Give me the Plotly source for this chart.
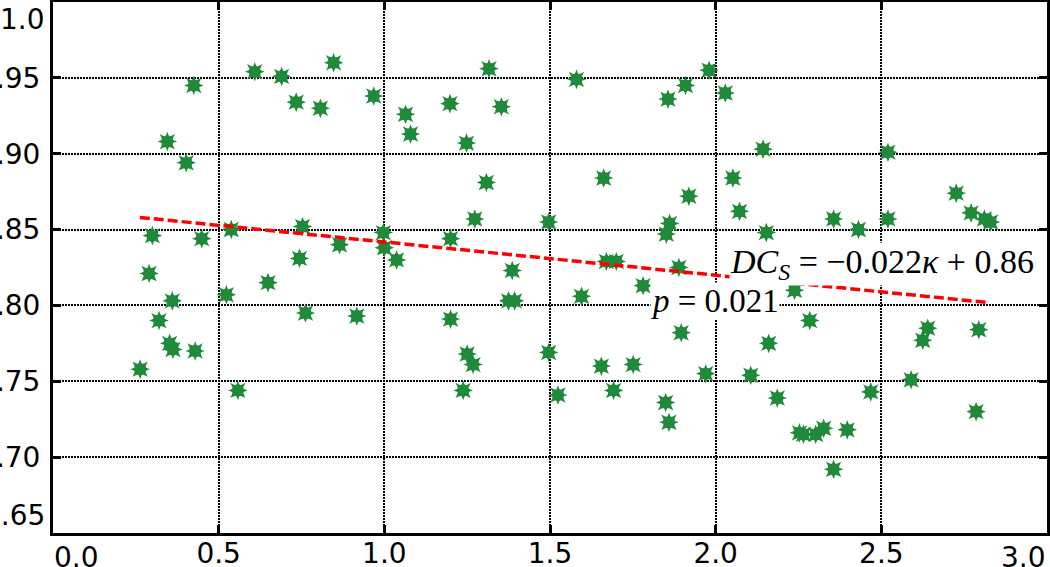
import plotly.graph_objects as go

# curvature (kappa) vs DC_S
kappa = [0.263, 0.290, 0.300, 0.320, 0.345, 0.352, 0.360, 0.362, 0.402, 0.425,
         0.429, 0.449, 0.523, 0.538, 0.558, 0.609, 0.649, 0.690, 0.734, 0.744,
         0.753, 0.762, 0.807, 0.847, 0.865, 0.917, 0.968, 0.997, 1.000, 1.037,
         1.064, 1.079, 1.198, 1.200, 1.200, 1.238, 1.248, 1.250, 1.268, 1.273,
         1.308, 1.316, 1.353, 1.375, 1.386, 1.393, 1.496, 1.496, 1.524, 1.580,
         1.595, 1.655, 1.662, 1.670, 1.692, 1.700, 1.751, 1.781, 1.849, 1.851,
         1.856, 1.859, 1.861, 1.889, 1.896, 1.909, 1.919, 1.970, 1.980, 2.029,
         2.052, 2.072, 2.106, 2.143, 2.153, 2.160, 2.186, 2.238, 2.253, 2.265,
         2.284, 2.302, 2.326, 2.356, 2.356, 2.397, 2.431, 2.468, 2.520, 2.520,
         2.590, 2.625, 2.640, 2.726, 2.771, 2.786, 2.794, 2.811, 2.830]
dcs = [0.758, 0.821, 0.846, 0.790, 0.908, 0.775, 0.803, 0.771, 0.894, 0.945,
       0.770, 0.844, 0.807, 0.850, 0.744, 0.954, 0.815, 0.951, 0.934, 0.831,
       0.852, 0.795, 0.930, 0.960, 0.840, 0.793, 0.938, 0.848, 0.838, 0.830,
       0.926, 0.913, 0.933, 0.844, 0.791, 0.744, 0.907, 0.768, 0.761, 0.857,
       0.881, 0.956, 0.931, 0.803, 0.823, 0.803, 0.855, 0.769, 0.741, 0.949,
       0.806, 0.760, 0.884, 0.829, 0.744, 0.829, 0.761, 0.813, 0.736, 0.847,
       0.936, 0.723, 0.854, 0.825, 0.782, 0.945, 0.872, 0.755, 0.955, 0.940,
       0.884, 0.862, 0.754, 0.903, 0.848, 0.775, 0.739, 0.810, 0.716, 0.715,
       0.790, 0.715, 0.719, 0.857, 0.692, 0.718, 0.850, 0.743, 0.901, 0.857,
       0.751, 0.777, 0.785, 0.874, 0.861, 0.730, 0.784, 0.857, 0.855]

# fitted line endpoints
fit_x = [0.262, 2.817]
fit_y = [0.858, 0.802]

x_ticks = [0.0, 0.5, 1.0, 1.5, 2.0, 2.5, 3.0]
x_ticktext = ['0.0', '0.5', '1.0', '1.5', '2.0', '2.5', '3.0']
y_ticks = [0.65, 0.70, 0.75, 0.80, 0.85, 0.90, 0.95, 1.0]
y_ticktext = ['0.65', '0.70', '0.75', '0.80', '0.85', '0.90', '0.95', '1.0']

eq_text = '<i>DC<sub>S</sub></i> = \u22120.022<i>\u03ba</i> + 0.86'
p_text = '<i>p</i> = 0.021'

GREEN = '#1f8a3a'
TICK_FONT = dict(family='DejaVu Sans', size=28, color='black')

fig = go.Figure()

# eight-point star = star-square on top of star-diamond
for sym in ['star-diamond', 'star-square']:
    fig.add_trace(go.Scatter(
        x=kappa, y=dcs, mode='markers',
        marker=dict(symbol=sym, size=14, color=GREEN, line=dict(width=0)),
        showlegend=False, hoverinfo='skip',
    ))

fig.add_trace(go.Scatter(
    x=fit_x, y=fit_y, mode='lines',
    line=dict(color='red', width=3.5, dash='10px,4px'),
    showlegend=False, hoverinfo='skip',
))

axis_common = dict(
    showline=True, linecolor='black', linewidth=3, mirror='ticks',
    ticks='inside', ticklen=8, tickwidth=3, tickcolor='black',
    showgrid=True, gridcolor='black', gridwidth=1.5, griddash='1.5px,1.5px',
    zeroline=False, tickfont=TICK_FONT, automargin=False,
)

# end labels are drawn as annotations (they sit inside the axes span)
fig.update_xaxes(
    range=[x_ticks[0], x_ticks[-1]], tickvals=x_ticks[1:-1],
    ticktext=x_ticktext[1:-1], ticklabelstandoff=-7,
    **axis_common,
)
fig.update_yaxes(
    range=[y_ticks[0], y_ticks[-1]], tickvals=y_ticks[1:-1],
    ticktext=y_ticktext[1:-1], ticklabelstandoff=4,
    **axis_common,
)

annotations = [
    dict(x=x_ticks[0], y=0, yref='paper', xanchor='left', yanchor='top',
         text=x_ticktext[0], yshift=-7),
    dict(x=x_ticks[-1], y=0, yref='paper', xanchor='right', yanchor='top',
         text=x_ticktext[-1], yshift=-7),
    dict(x=0, xref='paper', y=y_ticks[0], xanchor='right', yanchor='bottom',
         text=y_ticktext[0], xshift=-7),
    dict(x=0, xref='paper', y=y_ticks[-1], xanchor='right', yanchor='top',
         text=y_ticktext[-1], xshift=-7),
]
for a in annotations:
    a.update(showarrow=False, font=TICK_FONT, borderpad=0)
    fig.add_annotation(**a)

fig.add_annotation(
    x=2.965, y=0.827, xanchor='right', yanchor='middle', text=eq_text,
    showarrow=False, bgcolor='white', borderpad=0,
    font=dict(family='Liberation Serif', size=34, color='black'),
)
fig.add_annotation(
    x=1.997, y=0.803, xanchor='center', yanchor='middle', text=p_text,
    showarrow=False, bgcolor='white', borderpad=0,
    font=dict(family='Liberation Serif', size=33, color='black'),
)

fig.update_layout(
    width=1050, height=567,
    margin=dict(l=53, r=3, t=2, b=34),
    plot_bgcolor='white', paper_bgcolor='white',
)

# drop the browser's default body margin so the figure starts at the corner
fig.write_html('out.html', config={'displayModeBar': False},
               post_script="document.body.style.margin='0px';")
